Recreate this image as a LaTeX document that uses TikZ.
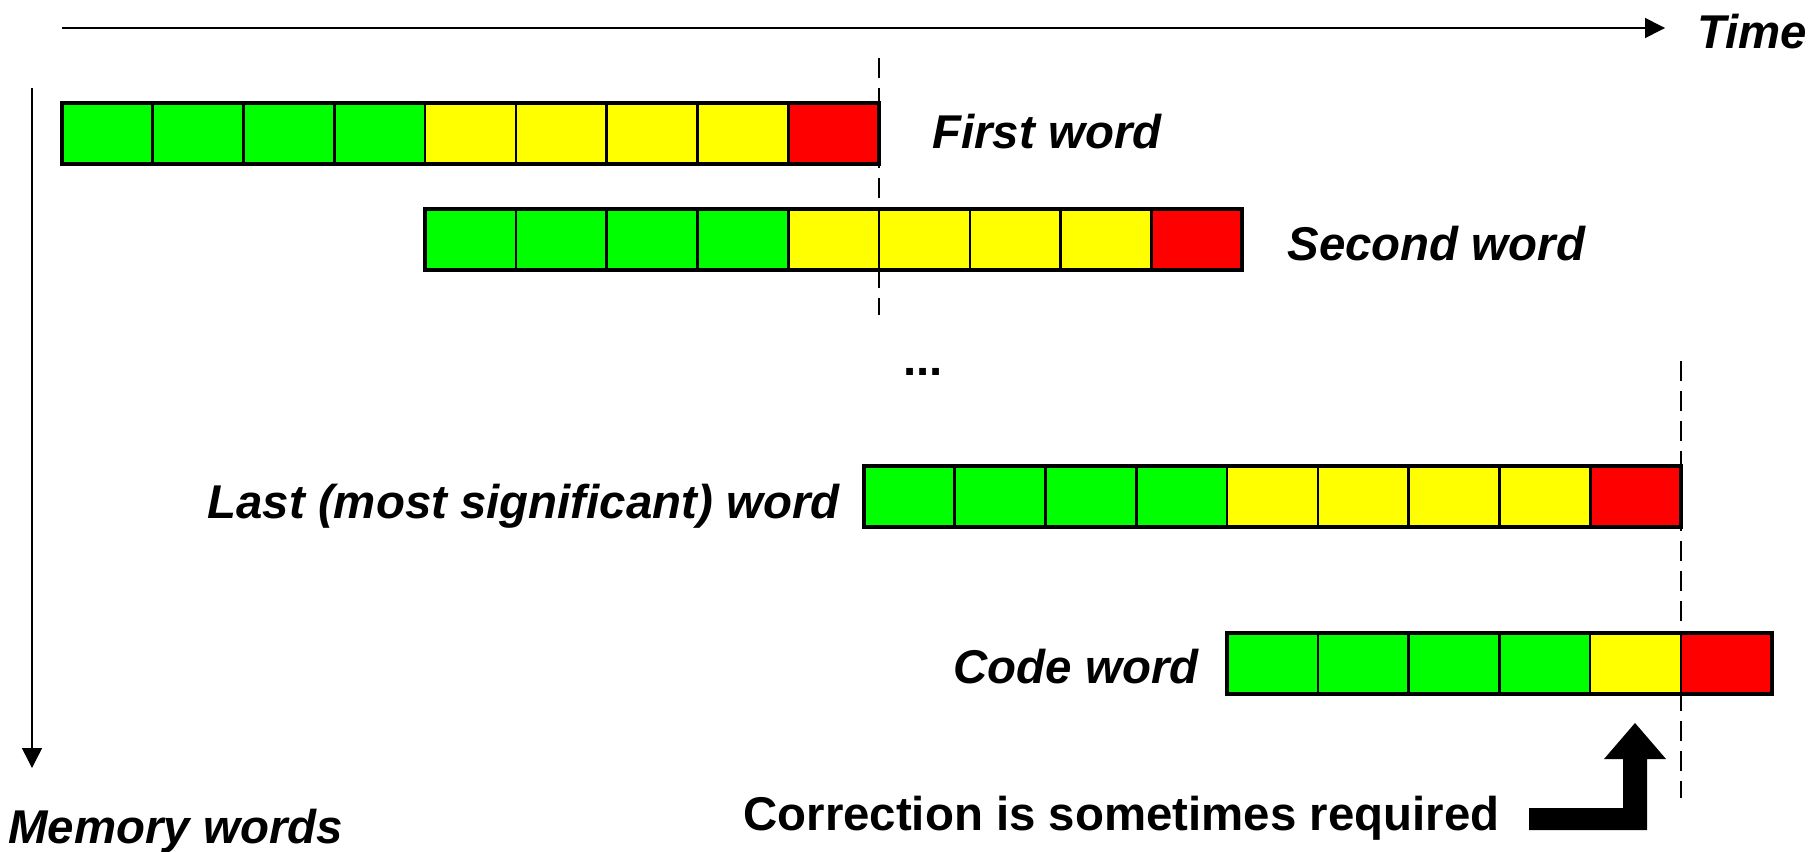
\documentclass[tikz,border=0pt]{standalone}
\usepackage{fontspec}
\setmainfont{Liberation Sans}
\usetikzlibrary{arrows.meta}
\definecolor{bitgreen}{RGB}{0,255,0}
\definecolor{bityellow}{RGB}{255,255,0}
\definecolor{bitred}{RGB}{255,0,0}

\tikzset{
  cell/.style={draw=black, line width=1.3pt, rectangle, minimum width=45.39pt,
    minimum height=30.5pt, inner sep=0pt, outer sep=0pt, anchor=north west},
  wordframe/.style={draw=black, line width=2pt},
  axis/.style={draw=black, line width=0.75pt, -{Triangle[length=10pt,width=10pt]}},
  guide/.style={draw=black, line width=1pt, dash pattern=on 10pt off 5pt},
  lbl/.style={font=\fontsize{23.7}{28}\selectfont\bfseries\itshape, inner sep=0pt},
  note/.style={font=\fontsize{23.7}{28}\selectfont\bfseries, inner sep=0pt},
  bigarrow/.style={fill=black},
}

% one memory word: name prefix, left x, top y, list of cell colours
\newcommand\memword[4]{%
  \foreach \col [count=\i from 0] in {#4}
    \node[cell, fill=\col] (#1c\i) at ({#2+\i*90.78},#3) {};
}

\begin{document}
\begin{tikzpicture}[x=0.5pt, y=-0.5pt]
\useasboundingbox (0,0) rectangle (1818,851);

% axes
\coordinate (t0) at (62,28);
\coordinate (t1) at (1665,28);
\draw[axis] (t0) -- (t1);
\node[lbl, anchor=base west] (timelbl) at (1697,48) {Time};

\coordinate (m0) at (32,88);
\coordinate (m1) at (32,768);
\draw[axis] (m0) -- (m1);
\node[lbl, anchor=base west] (memlbl) at (8,843) {Memory words};

% dashed alignment guides
\coordinate (g1a) at (879,58);
\coordinate (g1b) at (879,315);
\draw[guide] (g1a) -- (g1b);
\coordinate (g2a) at (1681,361);
\coordinate (g2b) at (1681,798);
\draw[guide] (g2a) -- (g2b);

% words
\memword{wa}{62}{103}{bitgreen,bitgreen,bitgreen,bitgreen,bityellow,bityellow,bityellow,bityellow,bitred}
\draw[wordframe] (wac0.north west) rectangle (wac8.south east);
\node[lbl, anchor=base west] (walbl) at (932,148) {First word};

\memword{wb}{425.12}{208.5}{bitgreen,bitgreen,bitgreen,bitgreen,bityellow,bityellow,bityellow,bityellow,bitred}
\draw[wordframe] (wbc0.north west) rectangle (wbc8.south east);
\node[lbl, anchor=base west] (wblbl) at (1287,260) {Second word};

\node[note, anchor=base west] (dots) at (903,375) {...};

\memword{wc}{864}{465.5}{bitgreen,bitgreen,bitgreen,bitgreen,bityellow,bityellow,bityellow,bityellow,bitred}
\draw[wordframe] (wcc0.north west) rectangle (wcc8.south east);
\node[lbl, anchor=base east] (wclbl) at (840,518) {Last (most significant) word};

\memword{wd}{1227}{633}{bitgreen,bitgreen,bitgreen,bitgreen,bityellow,bitred}
\draw[wordframe] (wdc0.north west) rectangle (wdc5.south east);
\node[lbl, anchor=base east] (wdlbl) at (1199,683) {Code word};

% correction note with bent block arrow
\node[note, anchor=base west] (corr) at (743,830) {Correction is sometimes required};
\fill[bigarrow] (1529,808) -- (1623,808) -- (1623,759) -- (1604,759) -- (1635,723)
  -- (1666,759) -- (1647,759) -- (1647,830) -- (1529,830) -- cycle;
\end{tikzpicture}
\end{document}
